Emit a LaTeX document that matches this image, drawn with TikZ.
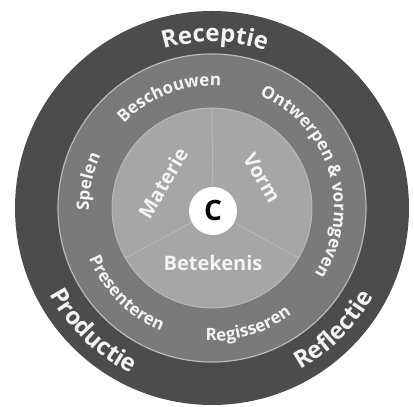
\documentclass[tikz,border=0pt]{standalone}
\usepackage{fontspec}
\setmainfont{Open Sans}
\usetikzlibrary{decorations.text}
\definecolor{ringdark}{HTML}{4C4C4C}
\definecolor{ringmid}{HTML}{7A7A7A}
\definecolor{ringlight}{HTML}{A6A6A6}
\definecolor{edgecol}{HTML}{B8B8B8}
\definecolor{txtcol}{HTML}{F4F4F4}
\newcommand\outerfnt{\fontsize{24}{24}\selectfont\bfseries\color{txtcol}}
\newcommand\midfnt{\fontsize{17}{17}\selectfont\bfseries\color{txtcol}}
\newcommand\innerfnt{\fontsize{20}{20}\selectfont\bfseries\color{txtcol}}
\tikzset{
  ring/.style={circle, inner sep=0pt, outer sep=0pt},
  divider/.style={draw=edgecol, line width=0.9pt},
  innerlabel/.style={font=\innerfnt, inner sep=0pt},
  arctext/.style={decorate, decoration={text along path, text align=center, text={#1}}}
}
\begin{document}
\begin{tikzpicture}[x=1pt,y=1pt]
\useasboundingbox (0,0) rectangle (414,406);
\coordinate (c) at (212,198);
\node[ring, fill=ringdark, minimum size=394pt] (outer) at (c) {};
\node[ring, fill=ringmid, draw=edgecol, line width=1.2pt, minimum size=308pt] (middle) at (c) {};
\node[ring, fill=ringlight, draw=edgecol, line width=1pt, minimum size=200pt] (inner) at (c) {};
\node[ring, fill=white, minimum size=48pt, font=\fontsize{28}{28}\selectfont\bfseries] (core) at (213,195) {C};
\draw[divider] (core) -- (inner.90);
\draw[divider] (core) -- (inner.210);
\draw[divider] (core) -- (inner.330);
\begin{scope}[shift={(c)}]
  % outer ring
  \path[arctext={|\outerfnt|Receptie}] (179:166) arc[start angle=179, end angle=-1, radius=166];
  \path[arctext={|\outerfnt|Productie}] (136:184) arc[start angle=136, end angle=316, radius=184];
  \path[arctext={|\outerfnt|Reflectie}] (225:184) arc[start angle=225, end angle=405, radius=184];
  % middle ring
  \path[arctext={|\midfnt|Beschouwen}] (201:122) arc[start angle=201, end angle=21, radius=122];
  \path[arctext={|\midfnt|Ontwerpen {\&} vormgeven}] (107:122) arc[start angle=107, end angle=-73, radius=122];
  \path[arctext={|\midfnt|Spelen}] (258:123) arc[start angle=258, end angle=78, radius=123];
  \path[arctext={|\midfnt|Presenteren}] (135:133) arc[start angle=135, end angle=315, radius=133];
  \path[arctext={|\midfnt|Regisseren}] (197:133) arc[start angle=197, end angle=377, radius=133];
\end{scope}
\node[innerlabel, rotate=60] (materie) at (163,223) {Materie};
\node[innerlabel, rotate=-60] (vorm) at (262,228) {Vorm};
\node[innerlabel] (betekenis) at (213,143) {Betekenis};
\end{tikzpicture}
\end{document}
